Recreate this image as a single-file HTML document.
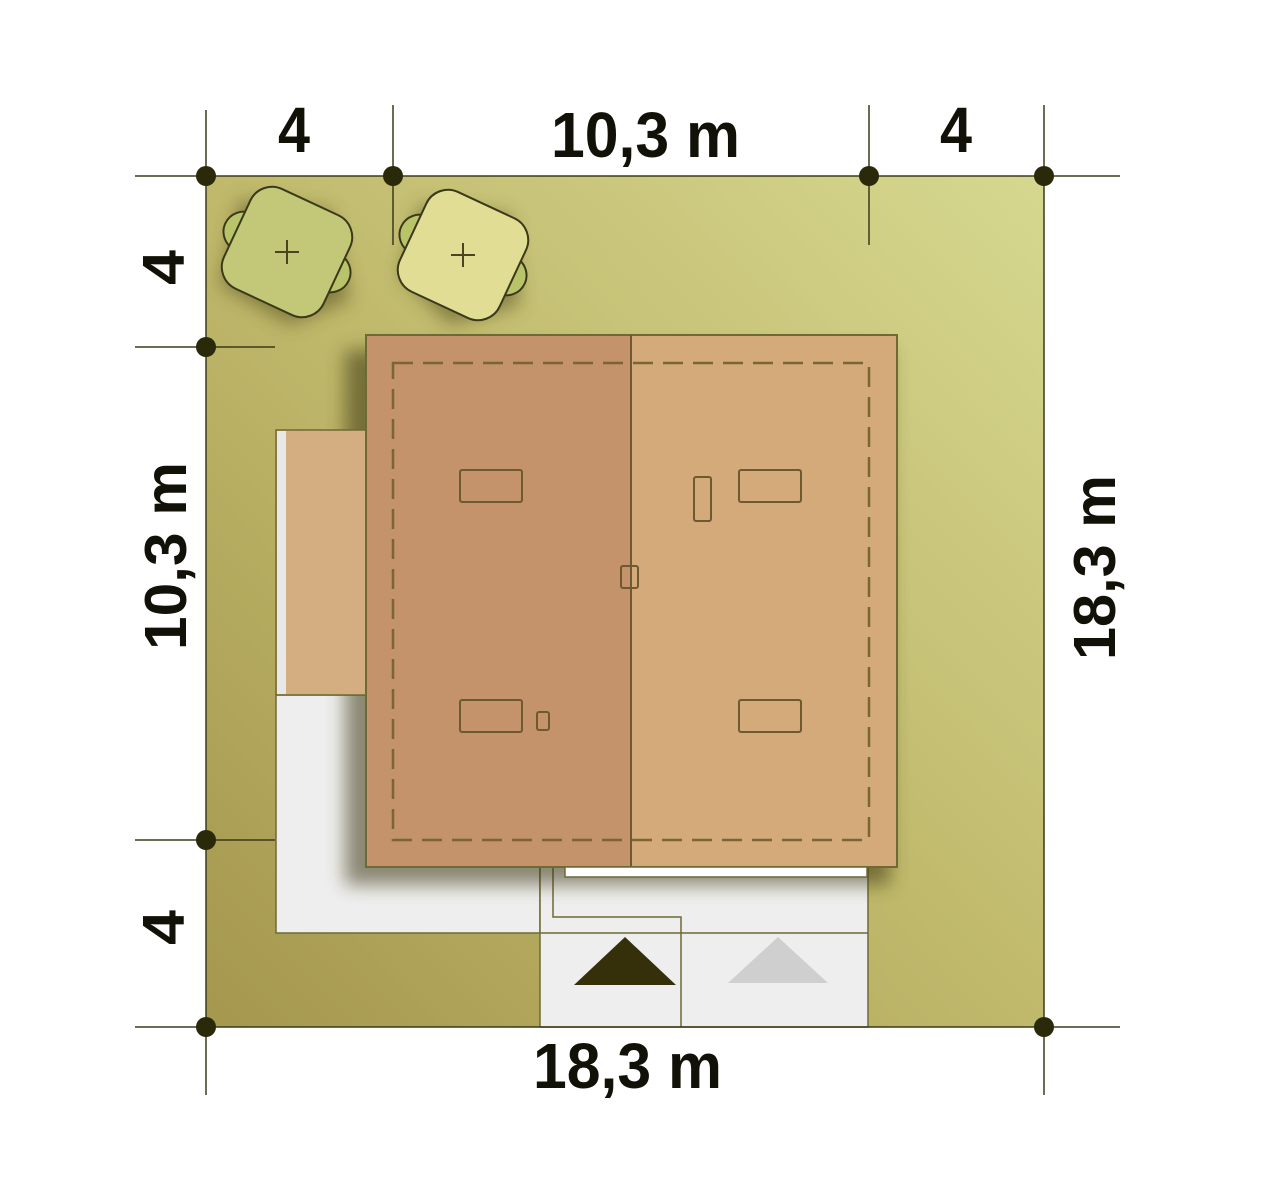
<!DOCTYPE html>
<html><head><meta charset="utf-8"><style>html,body{margin:0;padding:0;background:#fff}svg{display:block}</style></head>
<body>
<svg width="1280" height="1188" viewBox="0 0 1280 1188" xmlns="http://www.w3.org/2000/svg">
<defs>
<linearGradient id="g" x1="0" y1="1" x2="1" y2="0">
<stop offset="0" stop-color="#a5974e"/>
<stop offset="0.5" stop-color="#c0b96c"/>
<stop offset="1" stop-color="#d6d890"/>
</linearGradient>
<filter id="sh" x="-20%" y="-20%" width="150%" height="150%"><feGaussianBlur stdDeviation="9"/></filter>
</defs>
<rect x="206" y="176" width="838" height="851" fill="url(#g)"/>
<rect x="276" y="695" width="264" height="238" fill="#eeeeee" stroke="#6e6a35" stroke-width="1.5"/>
<rect x="540" y="867" width="328" height="160" fill="#eeeeee" stroke="#6e6a35" stroke-width="1.5"/>
<line x1="540" y1="933" x2="868" y2="933" stroke="#6e6a35" stroke-width="1.5"/>
<polyline points="553,867 553,917 681,917 681,1027" fill="none" stroke="#6e6a35" stroke-width="1.5"/>
<rect x="345" y="350" width="545" height="535" fill="#3a3510" opacity="0.55" filter="url(#sh)"/>
<g opacity="0.5" filter="url(#sh)"><path d="M240 200 l90 10 l20 90 l-60 25 l-70 -40 z M420 205 l90 10 l10 90 l-70 20 l-50 -50 z" fill="#4a4315"/></g>
<rect x="276" y="430" width="90" height="265" fill="#d4ae80" stroke="#6e6a35" stroke-width="1.5"/>
<rect x="277" y="431" width="9" height="263" fill="#e8e8e8"/>
<rect x="366" y="335" width="265" height="532" fill="#c4926b"/>
<rect x="631" y="335" width="266" height="532" fill="#d4aa7a"/>
<rect x="366" y="335" width="531" height="532" fill="none" stroke="#6e6a35" stroke-width="2"/>
<line x1="631" y1="335" x2="631" y2="867" stroke="#6e5a30" stroke-width="2"/>
<rect x="393" y="363" width="476" height="477" fill="none" stroke="#7a6535" stroke-width="2.5" stroke-dasharray="20,10"/>
<rect x="565" y="867" width="302" height="10" fill="#fff" stroke="#6e6a35" stroke-width="1.5"/>
<g fill="none" stroke="#6e5a30" stroke-width="2">
<rect x="460" y="470" width="62" height="32" rx="2"/>
<rect x="460" y="700" width="62" height="32" rx="2"/>
<rect x="537" y="712" width="12" height="18" rx="2"/>
<rect x="739" y="470" width="62" height="32" rx="2"/>
<rect x="739" y="700" width="62" height="32" rx="2"/>
<rect x="694" y="477" width="17" height="44" rx="2"/>
<rect x="621" y="566" width="17" height="22" rx="2"/>
</g>
<polygon points="625,937 676,985 574,985" fill="#36300a"/>
<polygon points="778,937 828,983 728,983" fill="#cfcfcf"/>
<g stroke="#3a3a1a" stroke-width="2">
<g transform="translate(287,252) rotate(25)">
<circle cx="-48" cy="0" r="20" fill="#b9c46a"/><circle cx="48" cy="0" r="20" fill="#b9c46a"/>
<rect x="-55" y="-55" width="110" height="110" rx="24" fill="#c3c878"/>
</g>
<g transform="translate(463,255) rotate(25)">
<circle cx="-48" cy="0" r="20" fill="#b9c46a"/><circle cx="48" cy="0" r="20" fill="#b9c46a"/>
<rect x="-55" y="-55" width="110" height="110" rx="24" fill="#e2dd95"/>
</g>
<path d="M275 252h24M287 240v24M451 255h24M463 243v24" stroke="#4a4520" stroke-width="2"/>
</g>
<g stroke="#3b3a1a" stroke-width="1.5">
<line x1="206" y1="110" x2="206" y2="1095"/>
<line x1="1044" y1="105" x2="1044" y2="1095"/>
<line x1="393" y1="105" x2="393" y2="245"/>
<line x1="869" y1="105" x2="869" y2="245"/>
<line x1="135" y1="176" x2="1120" y2="176"/>
<line x1="135" y1="1027" x2="1120" y2="1027"/>
<line x1="135" y1="347" x2="275" y2="347"/>
<line x1="135" y1="840" x2="275" y2="840"/>
</g>
<g fill="#2a2a0a">
<circle cx="206" cy="176" r="10"/><circle cx="393" cy="176" r="10"/><circle cx="869" cy="176" r="10"/><circle cx="1044" cy="176" r="10"/>
<circle cx="206" cy="347" r="10"/><circle cx="206" cy="840" r="10"/><circle cx="206" cy="1027" r="10"/><circle cx="1044" cy="1027" r="10"/>
</g>
<g font-family="'Liberation Sans Narrow','Liberation Sans',sans-serif" font-weight="bold" font-size="64" fill="#111108">
<text x="278" y="152" textLength="32" lengthAdjust="spacingAndGlyphs">4</text>
<text x="551" y="157" textLength="189" lengthAdjust="spacingAndGlyphs">10,3 m</text>
<text x="940" y="152" textLength="32" lengthAdjust="spacingAndGlyphs">4</text>
<text x="533" y="1088" textLength="189" lengthAdjust="spacingAndGlyphs">18,3 m</text>
</g>
<g font-family="'Liberation Sans Narrow','Liberation Sans',sans-serif" font-weight="bold" font-size="59" fill="#111108">
<text transform="translate(184,285) rotate(-90)" textLength="35" lengthAdjust="spacingAndGlyphs">4</text>
<text transform="translate(186,650) rotate(-90)" textLength="188" lengthAdjust="spacingAndGlyphs">10,3 m</text>
<text transform="translate(184,945) rotate(-90)" textLength="35" lengthAdjust="spacingAndGlyphs">4</text>
<text transform="translate(1115,660) rotate(-90)" textLength="185" lengthAdjust="spacingAndGlyphs">18,3 m</text>
</g>
</svg>
</body></html>
